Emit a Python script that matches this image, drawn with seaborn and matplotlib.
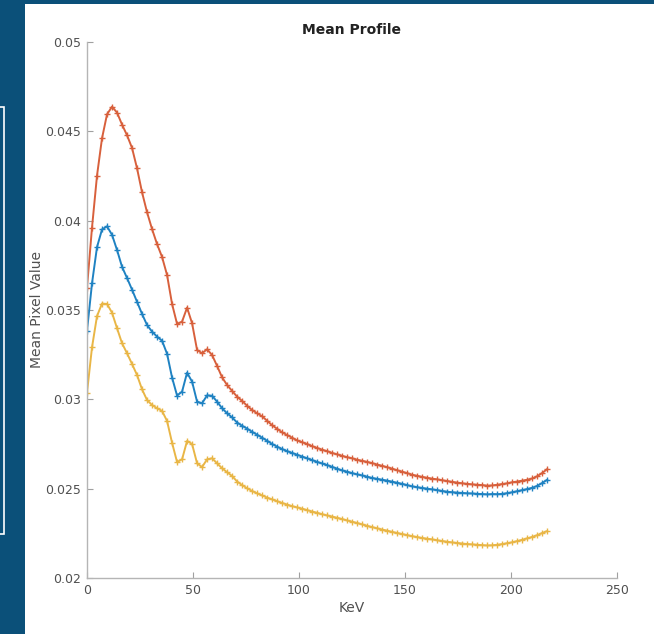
import numpy as np
import pandas as pd
import seaborn as sns
import matplotlib.pyplot as plt
from matplotlib.patches import Rectangle

# energy grid (keV), one sample every ~2.36 keV
kev = np.round(np.arange(93) * 2.36, 2)

red = [0.03625, 0.03961, 0.04252, 0.04461, 0.04595, 0.04638, 0.04605, 0.04538, 0.04478, 0.04407,
       0.04293, 0.04159, 0.04047, 0.03953, 0.03869, 0.03797, 0.03696, 0.03534, 0.03422, 0.03435,
       0.03513, 0.03426, 0.03276, 0.03258, 0.03280, 0.03248, 0.03187, 0.03123, 0.03080, 0.03047,
       0.03015, 0.02991, 0.02964, 0.02940, 0.02922, 0.02905, 0.02880, 0.02855, 0.02835, 0.02815,
       0.02800, 0.02785, 0.02770, 0.02760, 0.02750, 0.02738, 0.02728, 0.02718, 0.02710, 0.02700,
       0.02692, 0.02684, 0.02676, 0.02670, 0.02662, 0.02656, 0.02650, 0.02643, 0.02635, 0.02628,
       0.02620, 0.02612, 0.02603, 0.02595, 0.02587, 0.02578, 0.02572, 0.02566, 0.02561, 0.02556,
       0.02552, 0.02547, 0.02543, 0.02538, 0.02534, 0.02530, 0.02527, 0.02524, 0.02522, 0.02520,
       0.02517, 0.02518, 0.02522, 0.02526, 0.02530, 0.02536, 0.02540, 0.02545, 0.02550, 0.02557,
       0.02570, 0.02588, 0.02610]

blue = [0.03384, 0.03649, 0.03852, 0.03951, 0.03968, 0.03921, 0.03836, 0.03742, 0.03679, 0.03614,
        0.03546, 0.03478, 0.03416, 0.03379, 0.03351, 0.03328, 0.03255, 0.03122, 0.03021, 0.03043,
        0.03149, 0.03099, 0.02987, 0.02978, 0.03022, 0.03020, 0.02987, 0.02950, 0.02922, 0.02899,
        0.02870, 0.02852, 0.02836, 0.02818, 0.02802, 0.02785, 0.02768, 0.02750, 0.02735, 0.02722,
        0.02710, 0.02700, 0.02690, 0.02680, 0.02670, 0.02660, 0.02650, 0.02641, 0.02632, 0.02622,
        0.02612, 0.02602, 0.02595, 0.02587, 0.02580, 0.02574, 0.02567, 0.02560, 0.02555, 0.02550,
        0.02545, 0.02539, 0.02533, 0.02527, 0.02520, 0.02513, 0.02508, 0.02504, 0.02500, 0.02496,
        0.02492, 0.02487, 0.02483, 0.02480, 0.02478, 0.02476, 0.02474, 0.02473, 0.02471, 0.02470,
        0.02468, 0.02470, 0.02469, 0.02471, 0.02475, 0.02480, 0.02486, 0.02492, 0.02498, 0.02505,
        0.02516, 0.02532, 0.02550]

yellow = [0.03037, 0.03291, 0.03466, 0.03536, 0.03534, 0.03485, 0.03398, 0.03314, 0.03258, 0.03198,
          0.03136, 0.03056, 0.02996, 0.02968, 0.02950, 0.02935, 0.02879, 0.02757, 0.02649, 0.02664,
          0.02767, 0.02750, 0.02642, 0.02621, 0.02664, 0.02670, 0.02642, 0.02614, 0.02592, 0.02571,
          0.02540, 0.02520, 0.02502, 0.02487, 0.02474, 0.02462, 0.02450, 0.02440, 0.02430, 0.02420,
          0.02411, 0.02402, 0.02395, 0.02388, 0.02380, 0.02372, 0.02365, 0.02357, 0.02350, 0.02344,
          0.02337, 0.02330, 0.02322, 0.02315, 0.02308, 0.02300, 0.02292, 0.02285, 0.02278, 0.02271,
          0.02265, 0.02258, 0.02252, 0.02246, 0.02240, 0.02234, 0.02229, 0.02224, 0.02220, 0.02216,
          0.02211, 0.02207, 0.02203, 0.02199, 0.02196, 0.02193, 0.02190, 0.02188, 0.02186, 0.02184,
          0.02182, 0.02183, 0.02186, 0.02190, 0.02195, 0.02200, 0.02207, 0.02214, 0.02222, 0.02230,
          0.02240, 0.02252, 0.02263]

xticks = [0, 50, 100, 150, 200, 250]
yticks = [0.02, 0.025, 0.03, 0.035, 0.04, 0.045, 0.05]
ytick_labels = ['0.02', '0.025', '0.03', '0.035', '0.04', '0.045', '0.05']

sns.set_style('ticks')
plt.rcParams['font.family'] = ['DejaVu Sans']

fig = plt.figure(figsize=(6.54, 6.34), dpi=100)
fig.patch.set_facecolor('#0b5079')
# white slide panel + thin outline box on the left edge
fig.add_artist(Rectangle((25/654, 0), 1, 630/634, transform=fig.transFigure,
                         facecolor='white', edgecolor='none', zorder=0))
fig.add_artist(Rectangle((-0.01, 100/634), 0.0155, 427/634, transform=fig.transFigure,
                         facecolor='none', edgecolor='white', lw=1.2, zorder=1))

ax = fig.add_axes([87/654, 56/634, 530/654, 536/634])
ax.set_facecolor('white')

series = [(red, '#d8603c'), (blue, '#1f82c2'), (yellow, '#e9b646')]
for vals, col in series:
    df = pd.DataFrame({'KeV': kev, 'val': vals})
    sns.lineplot(data=df, x='KeV', y='val', ax=ax, color=col, lw=1.4,
                 marker='+', markersize=4.5, markeredgewidth=1.0, markeredgecolor=col)

ax.set_xlim(0, 250)
ax.set_ylim(0.02, 0.05)
ax.set_xticks(xticks)
ax.set_xticklabels([str(t) for t in xticks])
ax.set_yticks(yticks)
ax.set_yticklabels(ytick_labels)
ax.tick_params(direction='in', length=4, width=0.8, color='#a0a0a0',
               labelcolor='#505050', labelsize=9, pad=4)
sns.despine(ax=ax)
for s in ['left', 'bottom']:
    ax.spines[s].set_color('#b5b5b5')
    ax.spines[s].set_linewidth(1.0)

ax.set_xlabel('KeV', fontsize=10, color='#505050', labelpad=3)
ax.set_ylabel('Mean Pixel Value', fontsize=10, color='#505050', labelpad=1)
ax.set_title('Mean Profile', fontsize=10, fontweight='bold', color='#222222', pad=6)

fig.savefig('out.png', dpi=100, facecolor=fig.get_facecolor())
